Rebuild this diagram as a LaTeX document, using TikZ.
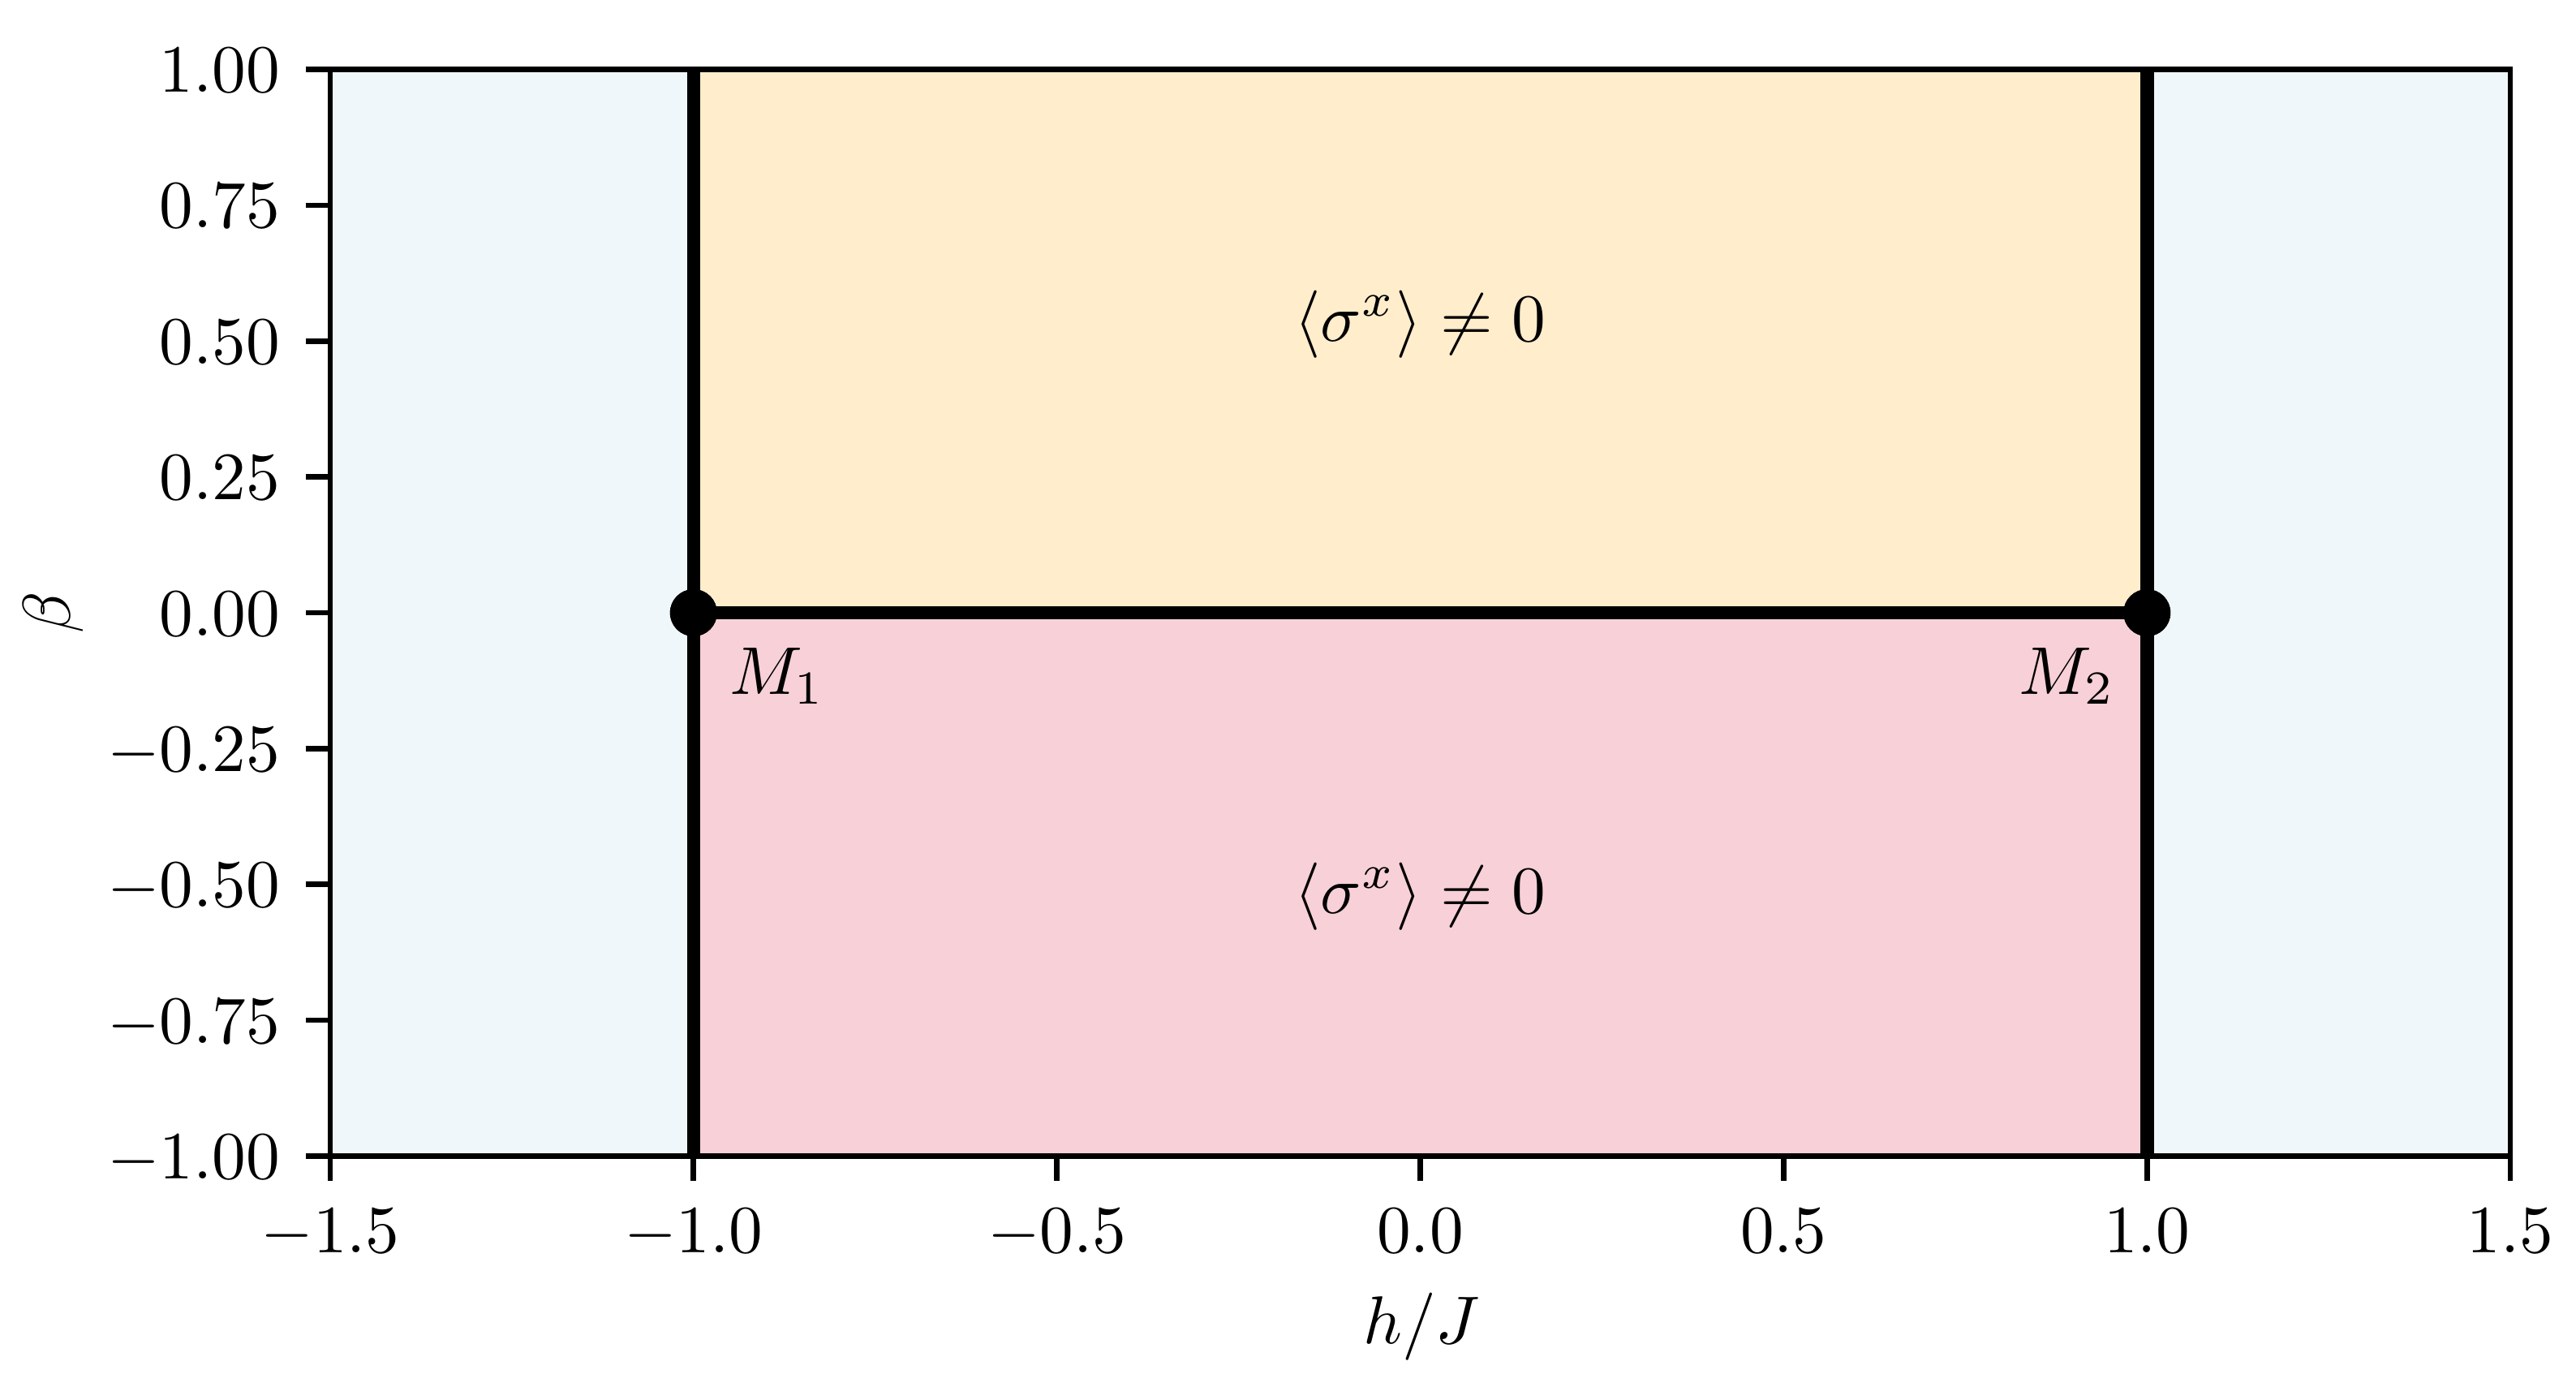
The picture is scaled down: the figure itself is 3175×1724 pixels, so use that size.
\documentclass[tikz,border=0pt]{standalone}
\usepackage{graphicx}
\definecolor{cblue}{RGB}{239,247,250}
\definecolor{cyel}{RGB}{255,237,204}
\definecolor{cpink}{RGB}{248,208,216}
\newcommand\mysz[1]{\scalebox{2.007}{#1}}
\begin{document}
\begin{tikzpicture}[x=0.0084667cm,y=-0.0084667cm,
  lbl/.style={inner sep=0pt, outer sep=0pt},
  frame/.style={line width=1.6pt},
  phase/.style={line width=4pt},
  tickline/.style={line width=1.6pt},
  pdot/.style={circle, fill=black, inner sep=0pt, minimum size=0.491cm}]
\useasboundingbox (0,0) rectangle (3175,1724);
% regions
\fill[cblue] (407,85.5) rectangle (854.8,1424.5);
\fill[cblue] (2646.2,85.5) rectangle (3094.05,1424.5);
\fill[cyel] (854.8,85.5) rectangle (2646.2,755);
\fill[cpink] (854.8,755) rectangle (2646.2,1424.5);
% critical points
\node[pdot] (m1) at (854.8,755) {};
\node[pdot] (m2) at (2646.2,755) {};
\coordinate (lt) at (854.8,85.5);
\coordinate (lb) at (854.8,1424.5);
\coordinate (rt) at (2646.2,85.5);
\coordinate (rb) at (2646.2,1424.5);
% phase boundaries
\draw[phase] (lt) -- (lb);
\draw[phase] (rt) -- (rb);
\draw[phase] (m1.center) -- (m2.center);
\node[pdot] at (m1) {};
\node[pdot] at (m2) {};
% labels
\node[lbl, anchor=base west] (lm1) at (899,855) {\mysz{$M_1$}};
\node[lbl, anchor=base east] (lm2) at (2607,855) {\mysz{$M_2$}};
\node[lbl, anchor=base] (top) at (1750.5,420) {\mysz{$\langle\sigma^x\rangle\neq0$}};
\node[lbl, anchor=base] (bot) at (1750.5,1125) {\mysz{$\langle\sigma^x\rangle\neq0$}};
% x ticks
\foreach \X/\lab [count=\i] in {407/{-1.5},854.8/{-1.0},1302.65/{-0.5},1750.5/{0.0},2198.35/{0.5},2646.2/{1.0},3094.05/{1.5}} {
  \draw[tickline] (\X,1424.5) -- (\X,1454.5);
  \node[lbl, anchor=base] (xt\i) at (\X,1543) {\mysz{$\lab$}};
}
% y ticks
\foreach \Y/\lab [count=\i] in {85.5/{1.00},252.9/{0.75},420.25/{0.50},587.6/{0.25},755/{0.00},922.4/{-0.25},1089.75/{-0.50},1257.1/{-0.75},1424.5/{-1.00}} {
  \draw[tickline] (407,\Y) -- (377,\Y);
  \node[lbl, anchor=base east] (yt\i) at (345,\Y+28) {\mysz{$\lab$}};
}
% frame
\draw[frame] (407,85.5) rectangle (3094.05,1424.5);
% axis labels
\node[lbl, anchor=base] (xlab) at (1752,1655) {\mysz{$h/J$}};
\node[lbl, rotate=90] (ylab) at (66,755) {\mysz{$\beta$}};
\end{tikzpicture}
\end{document}
